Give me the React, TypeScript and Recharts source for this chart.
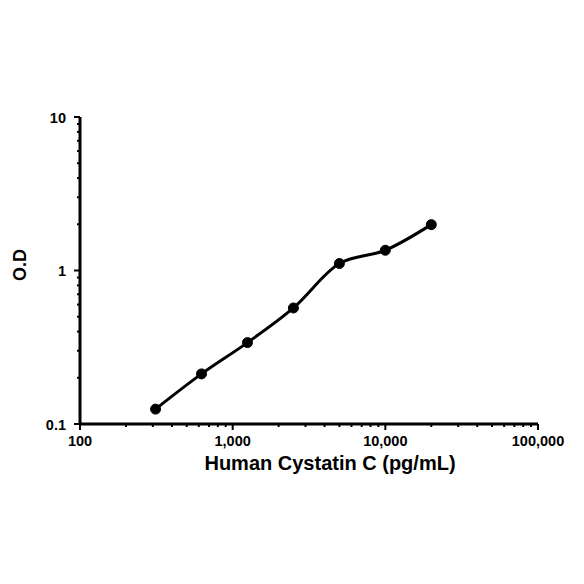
import React from 'react'
import { LineChart, Line, XAxis, YAxis } from 'recharts'

// standard concentrations (pg/mL) and measured O.D
const concentrations = [312.5, 625, 1250, 2500, 5000, 10000, 20000]
const odValues = [0.125, 0.212, 0.339, 0.57, 1.11, 1.355, 1.99]

const xMajorTicks = [100, 1000, 10000, 100000]
const xTickLabels = ['100', '1,000', '10,000', '100,000']
const yMajorTicks = [0.1, 1, 10]
const yTickLabels = ['0.1', '1', '10']

// 2..9 multiples between decades, for the small ticks
const minorBetween = (majors: number[]) => {
  const out: number[] = []
  majors.forEach((m, i) => {
    out.push(m)
    if (i < majors.length - 1) {
      for (let k = 2; k <= 9; k++) out.push(+(m * k).toPrecision(6))
    }
  })
  return out
}

const data = concentrations.map((c, i) => ({ conc: c, od: odValues[i] }))

const FONT = '"Liberation Sans", Arial, sans-serif'

function XTick(props: any) {
  const { x, y, payload } = props
  const idx = xMajorTicks.indexOf(payload.value)
  const major = idx >= 0
  return (
    <g>
      <line x1={x} y1={y} x2={x} y2={y + (major ? 6 : 3)} stroke="#000" strokeWidth={2} />
      {major && (
        <text x={x} y={y + 22} textAnchor="middle" fontFamily={FONT} fontWeight="bold" fontSize={14.5} fill="#000">
          {xTickLabels[idx]}
        </text>
      )}
    </g>
  )
}

function YTick(props: any) {
  const { x, y, payload } = props
  const idx = yMajorTicks.findIndex(v => Math.abs(v - payload.value) < 1e-9)
  const major = idx >= 0
  return (
    <g>
      <line x1={x} y1={y} x2={x - (major ? 6 : 3)} y2={y} stroke="#000" strokeWidth={2} />
      {major && (
        <text x={x - 14} y={y + 5.5} textAnchor="end" fontFamily={FONT} fontWeight="bold" fontSize={14.5} fill="#000">
          {yTickLabels[idx]}
        </text>
      )}
    </g>
  )
}

const xTitle = () => (
  <text x={330} y={470} textAnchor="middle" fontFamily={FONT} fontWeight="bold" fontSize={20} fill="#000">
    Human Cystatin C (pg/mL)
  </text>
)

const yTitle = () => (
  <text transform="translate(26,265) rotate(-90)" textAnchor="middle" fontFamily={FONT} fontWeight="bold" fontSize={18} fill="#000">
    O.D
  </text>
)

export default function App() {
  return (
    <div style={{ position: 'absolute', left: 0, top: 0, width: 584, height: 584, background: '#fff' }}>
      <LineChart width={584} height={584} data={data} margin={{ top: 117, right: 46, bottom: 110, left: 0 }}>
        <XAxis
          dataKey="conc"
          type="number"
          scale="log"
          domain={[100, 100000]}
          ticks={minorBetween(xMajorTicks)}
          interval={0}
          allowDataOverflow
          tickSize={0}
          tickMargin={0}
          tick={<XTick />}
          height={50}
          axisLine={{ stroke: '#000', strokeWidth: 3 }}
          label={xTitle}
        />
        <YAxis
          dataKey="od"
          type="number"
          scale="log"
          domain={[0.1, 10]}
          ticks={minorBetween(yMajorTicks)}
          interval={0}
          allowDataOverflow
          tickSize={0}
          tickMargin={0}
          tick={<YTick />}
          width={80}
          axisLine={{ stroke: '#000', strokeWidth: 3 }}
          label={yTitle}
        />
        <Line
          type="monotone"
          dataKey="od"
          stroke="#000"
          strokeWidth={3}
          dot={{ r: 5, fill: '#000', stroke: '#000', strokeWidth: 1 }}
          isAnimationActive={false}
        />
      </LineChart>
    </div>
  )
}
